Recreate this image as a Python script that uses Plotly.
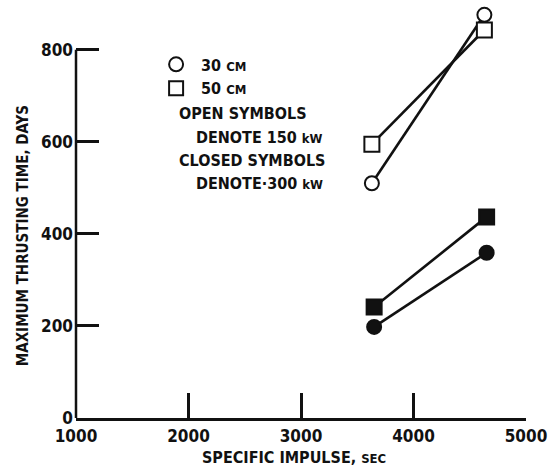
import plotly.graph_objects as go

# Data
isp_150 = [3630, 4630]
isp_300 = [3650, 4650]
t_30cm_150kw = [510, 876]
t_50cm_150kw = [595, 843]
t_50cm_300kw = [241, 437]
t_30cm_300kw = [198, 359]

x_ticks = [1000, 2000, 3000, 4000, 5000]
y_ticks = [0, 200, 400, 600, 800]

FONT = "DejaVu Sans Condensed, DejaVu Sans, sans-serif"
BLACK = "#111111"

fig = go.Figure()

def series(x, y, symbol, filled):
    fig.add_trace(go.Scatter(
        x=x, y=y, mode="lines+markers", showlegend=False,
        line=dict(color=BLACK, width=2.6),
        marker=dict(symbol=symbol, size=15 if symbol == "square" else 14,
                    color=BLACK if filled else "white",
                    line=dict(color=BLACK, width=2)),
        cliponaxis=False,
    ))

series(isp_150, t_30cm_150kw, "circle", False)
series(isp_150, t_50cm_150kw, "square", False)
series(isp_300, t_50cm_300kw, "square", True)
series(isp_300, t_30cm_300kw, "circle", True)

# legend entries
for name, sym in [("30 <span style='font-size:13px'>CM</span>", "circle"),
                  ("50 <span style='font-size:13px'>CM</span>", "square")]:
    fig.add_trace(go.Scatter(
        x=[None], y=[None], mode="markers", name=" " + name,
        marker=dict(symbol=sym, size=14, color="white",
                    line=dict(color=BLACK, width=2)),
    ))

fig.update_layout(
    width=559, height=469,
    margin=dict(l=76, r=23, t=13, b=51),
    paper_bgcolor="white", plot_bgcolor="white",
    font=dict(family=FONT, size=16, color=BLACK, weight="bold"),
    legend=dict(x=0.178, y=0.915, xanchor="left", yanchor="top",
                bgcolor="rgba(0,0,0,0)", tracegroupgap=0,
                font=dict(size=16), itemwidth=30),
    xaxis=dict(range=[1000, 5000], tickvals=x_ticks, ticks="inside",
               ticklen=25, tickwidth=2.5, tickcolor=BLACK,
               showline=True, linewidth=2.5, linecolor=BLACK,
               showgrid=False, zeroline=False,
               tickfont=dict(size=17, family=FONT, weight="bold"),
               ticklabelstandoff=1),
    yaxis=dict(range=[0, 880], tickvals=y_ticks, ticks="inside",
               ticklen=23, tickwidth=2.5, tickcolor=BLACK,
               showline=False, showgrid=False, zeroline=False,
               tickfont=dict(size=17, family=FONT, weight="bold"),
               ticklabelstandoff=2),
)

# y axis line only up to 800
fig.add_shape(type="line", xref="x domain", yref="y", x0=0, x1=0,
              y0=y_ticks[0], y1=y_ticks[-1],
              line=dict(color=BLACK, width=2.5))

notes = [
    ("OPEN SYMBOLS", 179, 113),
    ("DENOTE 150 <span style='font-size:13px'>kW</span>", 197, 137),
    ("CLOSED SYMBOLS", 179, 160),
    ("DENOTE\u00b7300 <span style='font-size:13px'>kW</span>", 197, 183),
]
W, H = 559, 469
L, R, T, B = 76, 23, 13, 51
pw, ph = W - L - R, H - T - B
for txt, px, py in notes:
    fig.add_annotation(text=txt, xref="paper", yref="paper",
                       x=(px - L) / pw, y=1 - (py - T) / ph,
                       xanchor="left", yanchor="middle", showarrow=False,
                       font=dict(size=16, family=FONT, weight="bold"))

fig.add_annotation(text="SPECIFIC IMPULSE, <span style='font-size:13px'>SEC</span>",
                   xref="paper", yref="paper", x=(299 - L) / pw, y=1 - (457 - T) / ph,
                   xanchor="center", yanchor="middle", showarrow=False,
                   font=dict(size=16, family=FONT, weight="bold"))
fig.add_annotation(text="MAXIMUM THRUSTING TIME, DAYS",
                   xref="paper", yref="paper", x=(22 - L) / pw, y=1 - (236 - T) / ph,
                   xanchor="center", yanchor="middle", showarrow=False, textangle=-90,
                   font=dict(size=15, family=FONT, weight="bold"))

fig.write_html("out.html")
